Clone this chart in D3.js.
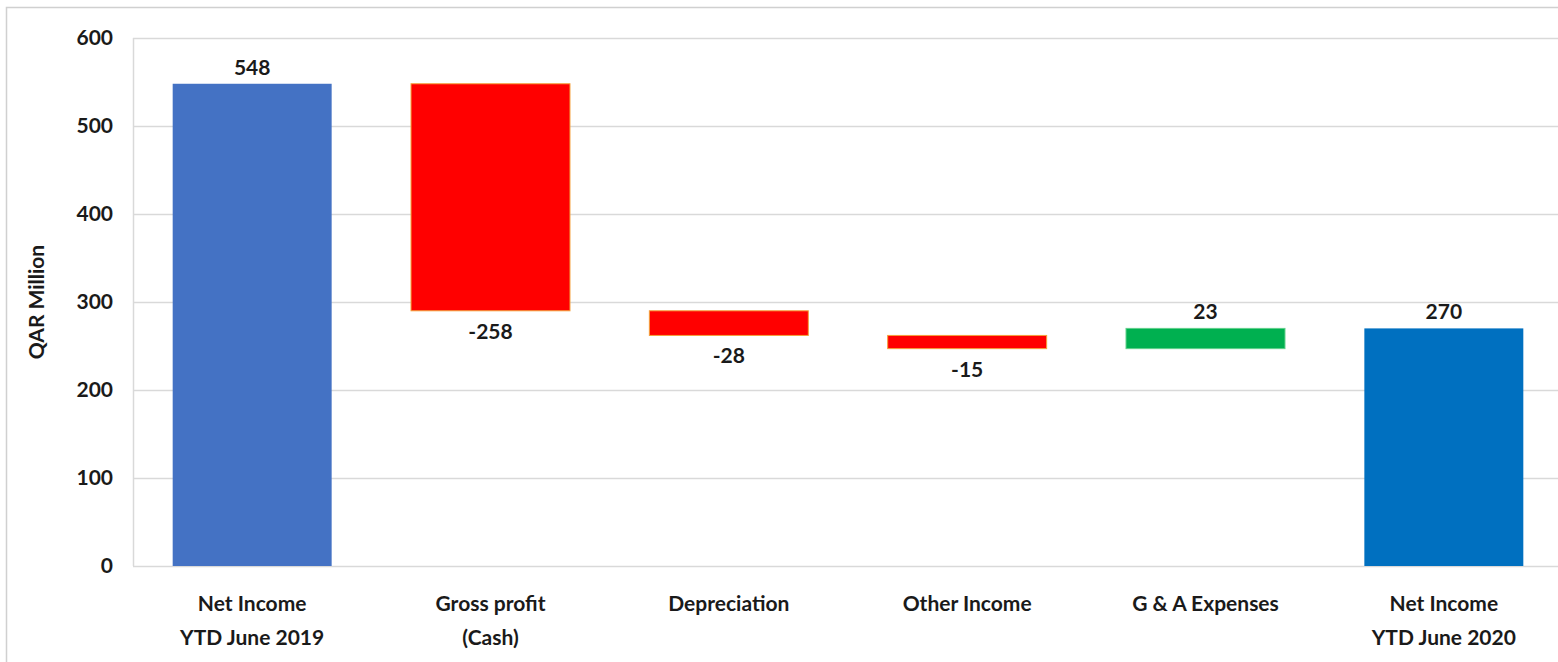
<!DOCTYPE html>
<html>
<head>
<meta charset="utf-8">
<script src="https://cdn.jsdelivr.net/npm/d3@7"></script>
<style>
  body { margin: 0; background: #fff; }
  svg { display: block; font-family: Lato, "Open Sans", sans-serif; }
</style>
</head>
<body>
<div id="chart"></div>
<script>
// Chart data
// ================================
var categories = [
  ["Net Income", "YTD June 2019"],
  ["Gross profit", "(Cash)"],
  ["Depreciation"],
  ["Other Income"],
  ["G & A Expenses"],
  ["Net Income", "YTD June 2020"]
];
var values = [548, -258, -28, -15, 23, 270];
var kinds = ["total", "delta", "delta", "delta", "delta", "total"];
var yTicks = [0, 100, 200, 300, 400, 500, 600];

// Set up our chart
// ================================
var svgWidth = 1558;
var svgHeight = 662;

var margin = { top: 38, right: -5, bottom: 96, left: 133 };
var width = svgWidth - margin.left - margin.right;
var height = svgHeight - margin.top - margin.bottom;

var svg = d3.select("#chart")
  .append("svg")
  .attr("width", svgWidth)
  .attr("height", svgHeight);

// outer frame
svg.append("rect")
  .attr("x", 6.5)
  .attr("y", 7.5)
  .attr("width", svgWidth)
  .attr("height", svgHeight)
  .attr("fill", "none")
  .attr("stroke", "#d0d0d0")
  .attr("stroke-width", 1.5);

var chartGroup = svg.append("g")
  .attr("transform", `translate(${margin.left}, ${margin.top})`);

// running totals for the waterfall
var running = 0;
var steps = values.map(function(v, i) {
  var start, end;
  if (kinds[i] === "total") {
    start = 0; end = v; running = v;
  } else {
    start = running; end = running + v; running = end;
  }
  return { i: i, value: v, kind: kinds[i], lo: Math.min(start, end), hi: Math.max(start, end) };
});

// Create scaling functions
var xBand = d3.scaleBand()
  .domain(d3.range(categories.length))
  .range([0, width])
  .paddingInner(0.333)
  .paddingOuter(0.1665);

var yLinearScale = d3.scaleLinear()
  .domain([0, 600])
  .range([height, 0]);

// gridlines
chartGroup.append("g")
  .selectAll("line")
  .data(yTicks)
  .enter()
  .append("line")
  .attr("x1", 0)
  .attr("x2", width)
  .attr("y1", d => yLinearScale(d) + 0.5)
  .attr("y2", d => yLinearScale(d) + 0.5)
  .attr("stroke", "#d9d9d9")
  .attr("stroke-width", 1.5);

chartGroup.append("line")
  .attr("x1", 0.5).attr("x2", 0.5)
  .attr("y1", 0).attr("y2", height)
  .attr("stroke", "#d9d9d9")
  .attr("stroke-width", 1.5);

// y axis
var leftAxis = d3.axisLeft(yLinearScale)
  .tickValues(yTicks)
  .tickSize(0)
  .tickPadding(20);

var yAxis = chartGroup.append("g").call(leftAxis);
yAxis.select(".domain").remove();
yAxis.selectAll("text")
  .attr("font-size", "21px")
  .attr("font-weight", "bold")
  .attr("fill", "#1a1a1a")
  .attr("font-family", "Lato, sans-serif");

// bars
var colorFor = function(d) {
  if (d.kind === "total") return d.i === 0 ? "#4472c4" : "#0070c0";
  return d.value < 0 ? "#ff0000" : "#00b050";
};
var strokeFor = function(d) {
  if (d.kind === "total") return "none";
  return d.value < 0 ? "#f4a13a" : "#5fd08a";
};

chartGroup.selectAll(".bar")
  .data(steps)
  .enter()
  .append("rect")
  .attr("class", "bar")
  .attr("x", d => xBand(d.i))
  .attr("width", xBand.bandwidth())
  .attr("y", d => yLinearScale(d.hi))
  .attr("height", d => yLinearScale(d.lo) - yLinearScale(d.hi))
  .attr("fill", colorFor)
  .attr("stroke", strokeFor)
  .attr("stroke-width", 1);

// value labels
chartGroup.selectAll(".val")
  .data(steps)
  .enter()
  .append("text")
  .attr("class", "val")
  .attr("x", d => xBand(d.i) + xBand.bandwidth() / 2)
  .attr("y", d => d.value < 0 ? yLinearScale(d.lo) + 28 : yLinearScale(d.hi) - 9)
  .attr("text-anchor", "middle")
  .attr("font-size", "21px")
  .attr("font-weight", "bold")
  .attr("fill", "#1a1a1a")
  .text(d => d.value);

// category labels
var catGroup = chartGroup.append("g")
  .attr("transform", `translate(0, ${height})`);

categories.forEach(function(lines, i) {
  var t = catGroup.append("text")
    .attr("x", xBand(i) + xBand.bandwidth() / 2)
    .attr("y", 45)
    .attr("text-anchor", "middle")
    .attr("font-size", "21px")
    .attr("font-weight", "bold")
    .attr("fill", "#1a1a1a");
  lines.forEach(function(line, j) {
    t.append("tspan")
      .attr("x", xBand(i) + xBand.bandwidth() / 2)
      .attr("dy", j === 0 ? 0 : 34)
      .text(line);
  });
});

// y axis title
svg.append("text")
  .attr("transform", `translate(44, ${margin.top + yLinearScale(300)}) rotate(-90)`)
  .attr("text-anchor", "middle")
  .attr("font-size", "21px")
  .attr("font-weight", "bold")
  .attr("fill", "#1a1a1a")
  .text("QAR Million");
</script>
</body>
</html>
